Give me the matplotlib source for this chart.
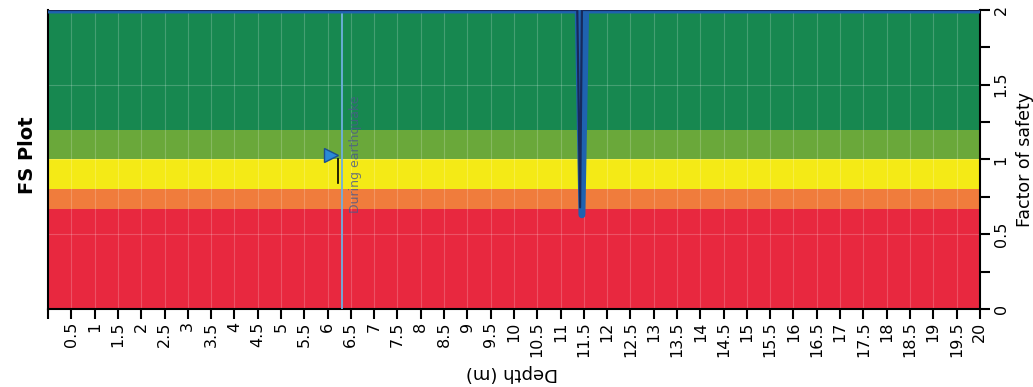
import matplotlib.pyplot as plt
import numpy as np
from matplotlib.ticker import MultipleLocator, FuncFormatter

# FS bands (lower, upper, colour)
band_lo = [0.0, 0.67, 0.8, 1.0, 1.2]
band_hi = [0.67, 0.8, 1.0, 1.2, 2.0]
band_col = ['#e8283f', '#f07c3c', '#f4ea16', '#6aa83a', '#178850']

# factor of safety profiles vs depth
depth_a = [0, 11.38, 11.46, 11.54, 20]
fs_a = [2.0, 2.0, 0.63, 2.0, 2.0]
depth_b = [0, 11.36, 11.42, 11.46, 20]
fs_b = [2.0, 2.0, 0.68, 2.0, 2.0]

# water table
gwt_depth = 6.3
gwt_eq_depth = 6.23
gwt_fs = [0.84, 1.0]
marker_depth = 6.08
marker_fs = 1.03

fig = plt.figure(figsize=(10.33, 3.87), dpi=100)
ax = fig.add_axes([0.0465, 0.2016, 0.902, 0.7726])

for lo, hi, c in zip(band_lo, band_hi, band_col):
    ax.axhspan(lo, hi, color=c, lw=0, zorder=0)

ax.grid(True, color='white', alpha=0.2, lw=0.8, zorder=1)

ax.axvline(gwt_depth, color='#6fb0e0', lw=1.3, zorder=3)
ax.plot([gwt_eq_depth, gwt_eq_depth], gwt_fs, color='black', lw=1.2, zorder=4)
ax.plot(marker_depth, marker_fs, marker='>', ms=10, color='#2a8ad8',
        mec='#1a4f90', zorder=5)
ax.text(6.6, 0.64, 'During earthquake', rotation=90, fontsize=9,
        color='#4a5a8a', alpha=0.8, ha='center', va='bottom', zorder=5)

ax.plot(depth_a, fs_a, color='#1f62b0', lw=5, zorder=6, solid_capstyle='round')
ax.plot(depth_b, fs_b, color='#172a5c', lw=1.6, zorder=7)

ax.set_xlim(0, 20)
ax.set_ylim(0, 2)

ax.xaxis.set_major_locator(MultipleLocator(0.5))
ax.xaxis.set_major_formatter(FuncFormatter(lambda v, p: '' if v == 0 else '%g' % v))
ax.tick_params(axis='x', labelrotation=90, labelsize=11.5, length=7, width=1.5, pad=2)

ax.yaxis.tick_right()
ax.yaxis.set_label_position('right')
ax.yaxis.set_major_locator(MultipleLocator(0.5))
ax.yaxis.set_minor_locator(MultipleLocator(0.25))
ax.yaxis.set_major_formatter(FuncFormatter(lambda v, p: '%g' % v))
ax.tick_params(axis='y', which='both', length=7, width=1.5, pad=3, labelsize=11.5)
for lab in ax.get_yticklabels():
    lab.set_rotation(90)
    lab.set_va('center')

ax.spines['top'].set_visible(False)
for s in ['left', 'bottom', 'right']:
    ax.spines[s].set_linewidth(1.5)

ax.set_ylabel('Factor of safety', rotation=90, fontsize=12.5, labelpad=5)
fig.text(0.496, 0.037, 'Depth (m)', rotation=180, fontsize=13,
         ha='center', va='center')
fig.text(0.027, 0.60, 'FS Plot', rotation=90, fontsize=14, fontweight='bold',
         ha='center', va='center')

plt.savefig('out.png', dpi=100)
